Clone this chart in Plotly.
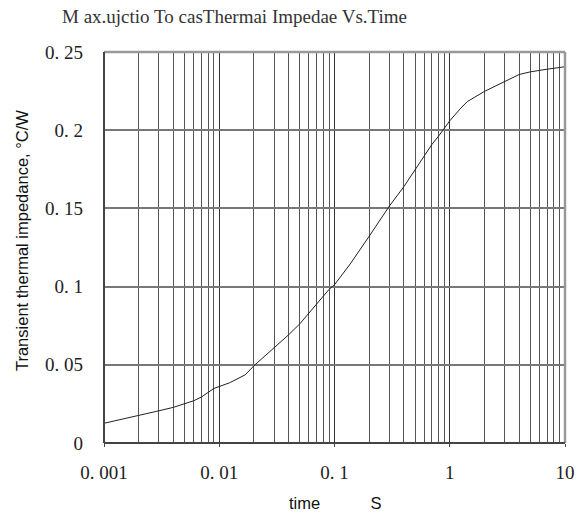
import plotly.graph_objects as go

# Data
time_s = [0.001, 0.002, 0.003, 0.004, 0.005, 0.006, 0.007, 0.009, 0.0123, 0.0168,
          0.02, 0.03, 0.04, 0.05, 0.06, 0.07, 0.08, 0.09, 0.1, 0.137,
          0.2, 0.3, 0.4, 0.5, 0.6, 0.7, 0.8, 0.9, 1.0, 1.23,
          1.42, 2.0, 3.0, 4.0, 5.0, 6.0, 7.0, 9.0, 10.0]
zth = [0.0126, 0.0174, 0.0206, 0.0228, 0.0249, 0.0270, 0.0294, 0.0349, 0.0385, 0.0436,
       0.0494, 0.0607, 0.0692, 0.0762, 0.0830, 0.0883, 0.0936, 0.0983, 0.1012, 0.1145,
       0.1322, 0.1516, 0.1639, 0.1750, 0.1834, 0.1909, 0.1962, 0.2015, 0.2060, 0.2136,
       0.2183, 0.2248, 0.2313, 0.2356, 0.2373, 0.2384, 0.2390, 0.2401, 0.2406]

x_major = [0.001, 0.01, 0.1, 1, 10]
x_labels = ["0. 001", "0. 01", "0. 1", "1", "10"]
x_minor = [m * d for d in [0.001, 0.01, 0.1, 1] for m in range(2, 10)]
y_ticks = [0, 0.05, 0.1, 0.15, 0.2, 0.25]
y_labels = ["0", "0. 05", "0. 1", "0. 15", "0. 2", "0. 25"]

title_text = "M ax.ujctio To casThermai Impedae Vs.Time"
y_title = "Transient thermal impedance, °C/W"
x_title = "time" + " " * 11 + "S"

serif = "Liberation Serif"
sans = "Liberation Sans"

fig = go.Figure()
fig.add_trace(go.Scatter(x=time_s, y=zth, mode="lines",
                         line=dict(color="#222222", width=1), showlegend=False))

# page body has an 8px default margin, so the figure is sized to fit the window
fig.update_layout(
    width=576, height=513,
    margin=dict(l=96, r=19, t=44, b=78, autoexpand=False),
    paper_bgcolor="white", plot_bgcolor="white",
    xaxis=dict(
        type="log", range=[-3, 1],
        tickvals=x_major, ticktext=x_labels,
        tickfont=dict(family=serif, size=19, color="#222"),
        showgrid=True, gridcolor="#333", gridwidth=1.2,
        ticks="outside", ticklen=3, tickcolor="#444",
        ticklabelstandoff=9,
        minor=dict(tickvals=x_minor, showgrid=True, gridcolor="#555", gridwidth=1, ticks=""),
        showline=False, zeroline=False,
    ),
    yaxis=dict(
        range=[0, 0.25],
        tickvals=y_ticks, ticktext=y_labels,
        tickfont=dict(family=serif, size=19, color="#222"),
        showgrid=True, gridcolor="#777", gridwidth=2,
        ticks="", ticklabelstandoff=20,
        showline=False, zeroline=False,
    ),
    annotations=[
        dict(text=title_text, xref="paper", yref="paper", x=-0.0954, y=1.09,
             xanchor="left", yanchor="middle", showarrow=False,
             font=dict(family=serif, size=19, color="#333")),
        dict(text=y_title, xref="paper", yref="paper", x=-0.178, y=0.519,
             xanchor="center", yanchor="middle", textangle=-90, showarrow=False,
             font=dict(family=sans, size=16.5, color="#111")),
        dict(text=x_title, xref="paper", yref="paper", x=0.503, y=-0.1535,
             xanchor="center", yanchor="middle", showarrow=False,
             font=dict(family=sans, size=16.5, color="#111")),
    ],
    shapes=[
        dict(type="line", xref="paper", yref="paper", x0=0, x1=1, y0=1, y1=1,
             line=dict(color="#999", width=2.5)),
        dict(type="line", xref="paper", yref="paper", x0=1, x1=1, y0=0, y1=1,
             line=dict(color="#999", width=2.5)),
        dict(type="line", xref="paper", yref="paper", x0=0, x1=0, y0=0, y1=1,
             line=dict(color="#444", width=2)),
        dict(type="line", xref="paper", yref="paper", x0=0, x1=1, y0=0, y1=0,
             line=dict(color="#444", width=2)),
    ],
)

fig.write_html("out.html")
